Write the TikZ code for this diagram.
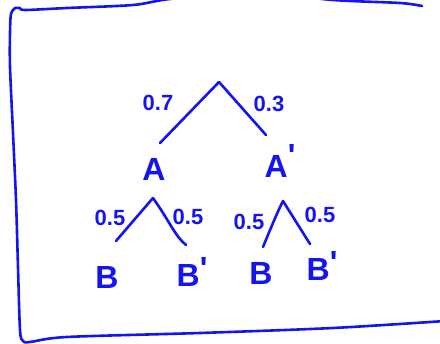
\documentclass[tikz,border=0pt]{standalone}
\usepackage{fontspec}
\setmainfont{Liberation Sans}
\definecolor{pen}{RGB}{20,20,240}
\begin{document}
\begin{tikzpicture}[x=1pt,y=-1pt,
  ink/.style={draw=pen,line width=2.6pt,line cap=round,line join=round},
  prob/.style={text=pen,font=\bfseries\fontsize{22}{22}\selectfont,inner sep=0pt},
  event/.style={text=pen,font=\bfseries\fontsize{32}{32}\selectfont,inner sep=0pt}]
\useasboundingbox (0,0) rectangle (440,344);
% hand-drawn frame
\draw[ink] plot[smooth] coordinates {(422,6) (400,3) (333,0) (250,-8) (170,-1) (133,5) (67,8) (25,10) (20,8) (15,8)};
\draw[ink] plot[smooth] coordinates {(15,8) (11,14) (10,33) (10,67) (13,133) (16,200) (18,267) (20,330) (23,341) (30,342) (67,337) (200,333) (333,328) (445,321)};
% tree points
\coordinate (r) at (219,82);
\coordinate (rl) at (160,143);
\coordinate (rr) at (266,135);
\coordinate (a) at (153,198);
\coordinate (al) at (116,241);
\coordinate (ar) at (186,245);
\coordinate (b) at (283,201);
\coordinate (bl) at (263,247);
\coordinate (br) at (310,244);
% branches
\draw[ink] (r) -- (rl);
\draw[ink] (r) -- (rr);
\draw[ink] (a) -- (al);
\draw[ink] (a) .. controls (170,222) and (175,236) .. (ar);
\draw[ink] (b) .. controls (276,215) and (268,235) .. (bl);
\draw[ink] (b) -- (br);
% labels
\node[prob] (p07) at (158,103) {0.7};
\node[prob] (p03) at (269,104) {0.3};
\node[prob] (p1) at (110,218) {0.5};
\node[prob] (p2) at (188,217) {0.5};
\node[prob] (p3) at (249,222) {0.5};
\node[prob] (p4) at (320,215) {0.5};
\node[event] (A) at (154,169) {A};
\node[event] (Ap) at (280,161) {A\raisebox{0.35em}{\textquotesingle}};
\node[event] (B1) at (107,277) {B};
\node[event] (B2) at (192,272) {B\raisebox{0.2em}{\textquotesingle}};
\node[event] (B3) at (261,273) {B};
\node[event] (B4) at (322,266) {B\raisebox{0.2em}{\textquotesingle}};
\end{tikzpicture}
\end{document}
